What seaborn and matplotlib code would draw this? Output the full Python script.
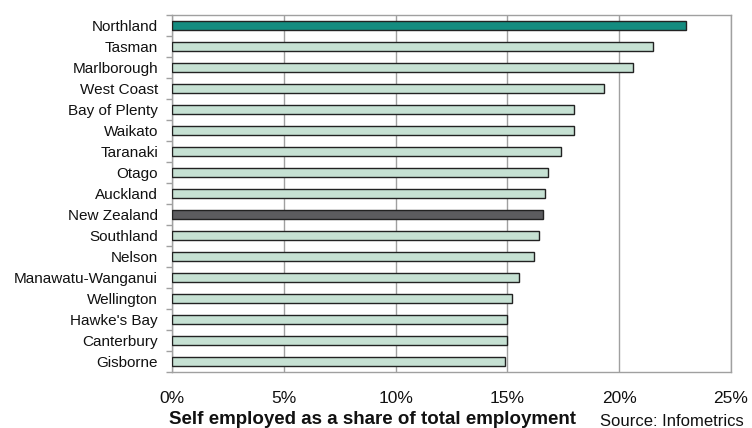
import matplotlib
matplotlib.use("Agg")
import matplotlib.pyplot as plt
from matplotlib.ticker import FixedLocator, PercentFormatter
import seaborn as sns
import pandas as pd

regions = ["Northland", "Tasman", "Marlborough", "West Coast", "Bay of Plenty",
           "Waikato", "Taranaki", "Otago", "Auckland", "New Zealand",
           "Southland", "Nelson", "Manawatu-Wanganui", "Wellington",
           "Hawke's Bay", "Canterbury", "Gisborne"]
share = [23.0, 21.5, 20.6, 19.3, 18.0, 18.0, 17.4, 16.8, 16.7, 16.6,
         16.4, 16.2, 15.5, 15.2, 15.0, 15.0, 14.9]
x_ticks = [0, 5, 10, 15, 20, 25]

highlight = {"Northland": "#00A090", "New Zealand": "#5B5B60"}
base_color = "#C2E5D3"
colors = [highlight.get(r, base_color) for r in regions]

df = pd.DataFrame({"region": regions, "share": share})

sns.set_theme(style="white")
plt.rcParams["font.family"] = ["Liberation Sans", "DejaVu Sans"]

fig = plt.figure(figsize=(7.52, 4.28), dpi=100)
ax = fig.add_axes([0.2287, 0.1308, 0.9721 - 0.2287, 0.965 - 0.1308])

sns.barplot(data=df, x="share", y="region", hue="region", palette=colors,
            legend=False, width=0.43, edgecolor="#222222", linewidth=1.0,
            ax=ax, zorder=3)

ax.set_xlim(0, 25)
ax.set_ylim(len(regions) - 0.5, -0.5)
ax.xaxis.set_major_locator(FixedLocator(x_ticks))
ax.xaxis.set_major_formatter(PercentFormatter(decimals=0))
ax.grid(axis="x", color="#A0A0A0", linewidth=1.0, zorder=0)
ax.grid(axis="y", visible=False)

for s in ax.spines.values():
    s.set_color("#A0A0A0")
    s.set_linewidth(1.0)

ax.tick_params(axis="x", which="major", direction="out", length=4, width=1,
               color="#A0A0A0", labelsize=12.5, labelcolor="#111111", pad=10)
ax.tick_params(axis="y", which="major", length=0, labelsize=11,
               labelcolor="#111111", pad=10)
ax.yaxis.set_minor_locator(FixedLocator([i - 0.5 for i in range(len(regions) + 1)]))
ax.tick_params(axis="y", which="minor", direction="out", length=4, width=1,
               color="#A0A0A0", left=True)

ax.set_ylabel("")
ax.set_xlabel("")
fig.text(0.495, 0.019, "Self employed as a share of total employment",
         ha="center", va="center", fontsize=13.5, fontweight="bold",
         color="#111111")
fig.text(0.894, 0.016, "Source: Infometrics", ha="center", va="center",
         fontsize=12, color="#111111")

fig.savefig("out.png", dpi=100)
